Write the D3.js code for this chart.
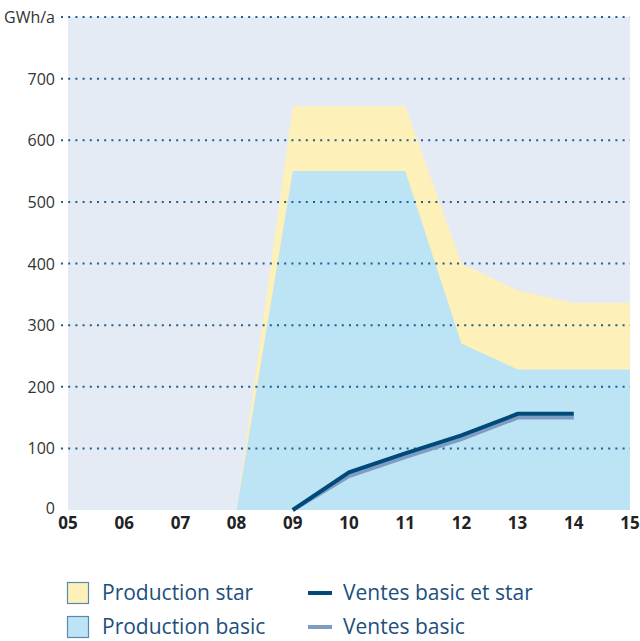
<!DOCTYPE html>
<html>
<head>
<meta charset="utf-8">
<script src="https://cdn.jsdelivr.net/npm/d3@7"></script>
<style>
  body { margin: 0; background: #fff; }
  svg { display: block; font-family: "Open Sans", sans-serif; }
</style>
</head>
<body>
<svg id="chart" width="640" height="641"></svg>
<script>
const years = ["05", "06", "07", "08", "09", "10", "11", "12", "13", "14", "15"];
const yTicks = [0, 100, 200, 300, 400, 500, 600, 700, 800];
const prodStar = [null, null, null, 0, 655, 655, 655, 400, 356, 336, 336];
const prodBasic = [null, null, null, 0, 550, 550, 550, 270, 228, 228, 228];
const ventesTotal = [null, null, null, null, 0, 61, 92, 121, 156, 156, null];
const ventesBasic = [null, null, null, null, 0, 55, 86, 115, 150, 150, null];

const margin = {left: 68, right: 10, top: 17, bottom: 131};
const width = 640, height = 641;

const svg = d3.select("#chart");

const x = d3.scalePoint()
    .domain(years)
    .range([margin.left, width - margin.right]);
const y = d3.scaleLinear()
    .domain([0, 800])
    .range([height - margin.bottom, margin.top]);

// background
svg.append("rect")
    .attr("x", x("05"))
    .attr("y", y(800))
    .attr("width", x("15") - x("05"))
    .attr("height", y(0) - y(800))
    .attr("fill", "#e4ebf4");

function series(vals) {
    return years.map((yr, i) => ({yr: yr, v: vals[i]}));
}

const area = d3.area()
    .defined(d => d.v !== null)
    .x(d => x(d.yr))
    .y0(y(0))
    .y1(d => y(d.v));

svg.append("path")
    .datum(series(prodStar))
    .attr("d", area)
    .attr("fill", "#fdf0b8");
svg.append("path")
    .datum(series(prodBasic))
    .attr("d", area)
    .attr("fill", "#bde4f4");

// dotted grid
svg.selectAll(".grid")
    .data(yTicks.slice(1))
    .enter()
    .append("line")
    .attr("class", "grid")
    .attr("x1", 61)
    .attr("x2", x("15"))
    .attr("y1", d => y(d))
    .attr("y2", d => y(d))
    .attr("stroke", "#1f5f8f")
    .attr("stroke-width", 2)
    .attr("stroke-dasharray", "2,5.2");

// y labels
svg.selectAll(".ylab")
    .data(yTicks)
    .enter()
    .append("text")
    .attr("x", 55)
    .attr("y", d => y(d) + (d === 0 ? 4 : 6))
    .attr("text-anchor", "end")
    .attr("font-size", 16)
    .attr("fill", "#333")
    .text(d => d === 800 ? "GWh/a" : d);

// x labels
svg.selectAll(".xlab")
    .data(years)
    .enter()
    .append("text")
    .attr("x", d => x(d))
    .attr("y", y(0) + 19)
    .attr("text-anchor", "middle")
    .attr("font-size", 17)
    .attr("font-weight", "bold")
    .attr("fill", "#222")
    .text(d => d);

// lines
const line = d3.line()
    .defined(d => d.v !== null)
    .x(d => x(d.yr))
    .y(d => y(d.v));

svg.append("path")
    .datum(series(ventesBasic))
    .attr("d", line)
    .attr("fill", "none")
    .attr("stroke", "#7f9cc4")
    .attr("stroke-width", 4);
svg.append("path")
    .datum(series(ventesTotal))
    .attr("d", line)
    .attr("fill", "none")
    .attr("stroke", "#004a7a")
    .attr("stroke-width", 4);

// legend
const legendBoxes = [
    {label: "Production star", fill: "#fdf0b8", row: 0},
    {label: "Production basic", fill: "#bde4f4", row: 1}
];
const legendLines = [
    {label: "Ventes basic et star", color: "#004a7a", row: 0},
    {label: "Ventes basic", color: "#7f9cc4", row: 1}
];
const rowY = [593, 627];

legendBoxes.forEach(function(d) {
    svg.append("rect")
        .attr("x", 67.5)
        .attr("y", rowY[d.row] - 10.5)
        .attr("width", 21)
        .attr("height", 21)
        .attr("fill", d.fill)
        .attr("stroke", "#5a88b4")
        .attr("stroke-width", 1.2);
    svg.append("text")
        .attr("x", 102)
        .attr("y", rowY[d.row] + 7)
        .attr("font-size", 21)
        .attr("fill", "#1c4f7e")
        .text(d.label);
});
legendLines.forEach(function(d) {
    svg.append("line")
        .attr("x1", 308)
        .attr("x2", 332)
        .attr("y1", rowY[d.row])
        .attr("y2", rowY[d.row])
        .attr("stroke", d.color)
        .attr("stroke-width", 4);
    svg.append("text")
        .attr("x", 343)
        .attr("y", rowY[d.row] + 7)
        .attr("font-size", 21)
        .attr("fill", "#1c4f7e")
        .text(d.label);
});
</script>
</body>
</html>
